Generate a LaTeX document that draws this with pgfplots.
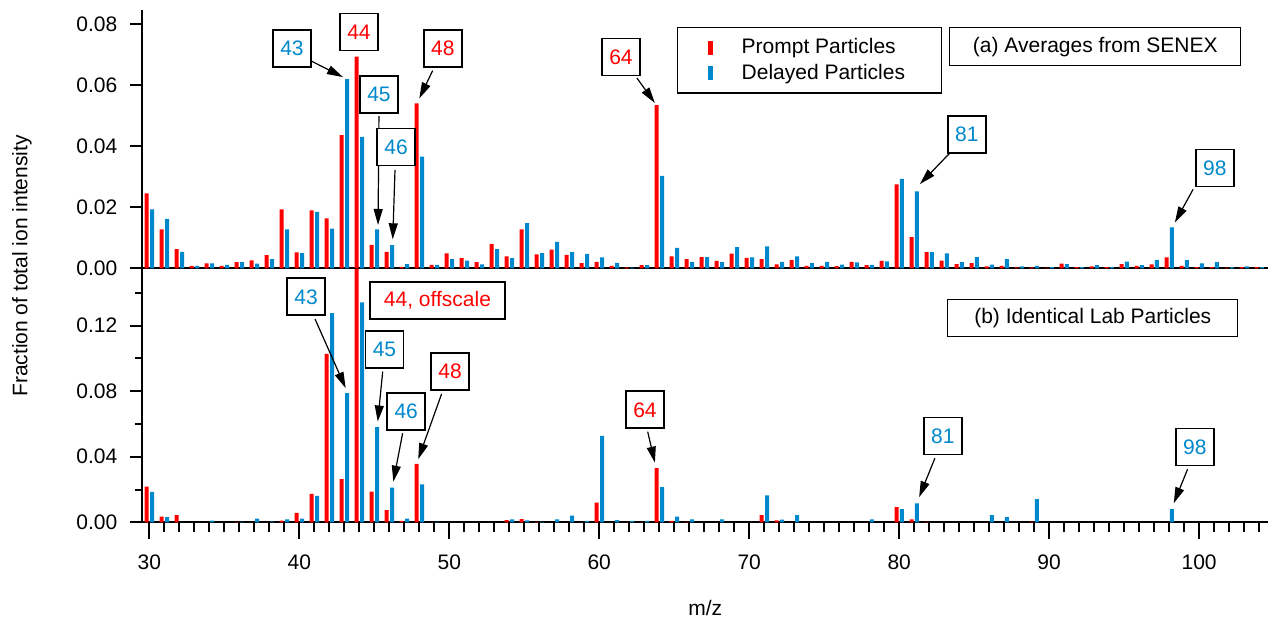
\documentclass[border=0pt]{standalone}
\usepackage{fontspec}
\setmainfont{Liberation Sans}
\usepackage{pgfplots}
\usepackage{pgfplotstable}
\pgfplotsset{compat=1.18}
\usetikzlibrary{arrows.meta}
\definecolor{promptred}{RGB}{255,0,0}
\definecolor{delayblue}{RGB}{0,136,204}

% top panel: SENEX averages
\pgfplotstableread{
mz prompt delayed
30 0.0246 0.0193
31 0.0128 0.0162
32 0.0063 0.0054
33 0.0008 0.0008
34 0.0016 0.0016
35 0.0008 0.0011
36 0.0020 0.0020
37 0.0026 0.0015
38 0.0043 0.0030
39 0.0193 0.0128
40 0.0052 0.0050
41 0.0190 0.0185
42 0.0164 0.0130
43 0.0437 0.0620
44 0.0694 0.0431
45 0.0077 0.0128
46 0.0054 0.0076
47 0.0005 0.0014
48 0.0541 0.0366
49 0.0011 0.0011
50 0.0049 0.0030
51 0.0033 0.0025
52 0.0020 0.0013
53 0.0080 0.0063
54 0.0039 0.0033
55 0.0128 0.0148
56 0.0046 0.0050
57 0.0061 0.0087
58 0.0044 0.0053
59 0.0017 0.0047
60 0.0021 0.0036
61 0.0008 0.0018
62 0.0003 0.0002
63 0.0010 0.0010
64 0.0535 0.0303
65 0.0039 0.0067
66 0.0030 0.0021
67 0.0037 0.0037
68 0.0024 0.0020
69 0.0048 0.0069
70 0.0034 0.0036
71 0.0030 0.0072
72 0.0013 0.0021
73 0.0027 0.0039
74 0.0008 0.0017
75 0.0008 0.0021
76 0.0007 0.0012
77 0.0021 0.0019
78 0.0010 0.0011
79 0.0024 0.0023
80 0.0275 0.0293
81 0.0102 0.0252
82 0.0053 0.0053
83 0.0025 0.0049
84 0.0014 0.0020
85 0.0017 0.0037
86 0.0006 0.0012
87 0.0008 0.0030
88 0.0003 0.0006
89 0.0003 0.0008
90 0.0001 0.0004
91 0.0015 0.0014
92 0.0004 0.0004
93 0.0006 0.0010
94 0.0004 0.0005
95 0.0014 0.0022
96 0.0008 0.0010
97 0.0013 0.0027
98 0.0036 0.0134
99 0.0008 0.0027
100 0.0004 0.0016
101 0.0004 0.0020
102 0.0002 0.0004
103 0.0004 0.0006
104 0.0004 0.0004
}\senex

% bottom panel: lab particles (44 prompt is offscale)
\pgfplotstableread{
mz prompt delayed
30 0.0218 0.0185
31 0.0034 0.0031
32 0.0043 0.0000
34 0.0000 0.0010
36 0.0003 0.0002
37 0.0000 0.0022
38 0.0000 0.0004
39 0.0010 0.0018
40 0.0057 0.0022
41 0.0174 0.0161
42 0.1028 0.1277
43 0.0263 0.0788
44 0.1800 0.1342
45 0.0187 0.0580
46 0.0075 0.0211
47 0.0008 0.0022
48 0.0356 0.0232
49 0.0000 0.0003
54 0.0014 0.0018
55 0.0020 0.0012
56 0.0003 0.0003
57 0.0000 0.0018
58 0.0000 0.0041
59 0.0000 0.0008
60 0.0120 0.0527
61 0.0000 0.0014
62 0.0000 0.0008
63 0.0000 0.0008
64 0.0330 0.0214
65 0.0008 0.0034
66 0.0003 0.0018
68 0.0000 0.0018
71 0.0043 0.0165
72 0.0012 0.0016
73 0.0000 0.0043
78 0.0000 0.0018
80 0.0092 0.0081
81 0.0018 0.0116
82 0.0003 0.0000
86 0.0000 0.0043
87 0.0000 0.0031
89 0.0004 0.0142
98 0.0000 0.0081
}\labdata

\pgfplotsset{
  panel/.style={
    scale only axis, width=562.9pt,
    xmin=29.53, xmax=104.6, ymin=0,
    axis x line*=bottom, axis y line*=left,
    axis line style={line width=1pt,-},
    tick style={line width=1pt,black},
    tick align=outside,
    major tick length=6pt, minor tick length=3.5pt,
    clip mode=individual,
    scaled y ticks=false,
    /pgf/number format/assume math mode=true,
    yticklabel style={/pgf/number format/fixed,/pgf/number format/fixed zerofill,
      /pgf/number format/precision=2, xshift=-3pt},
  },
  promptbar/.style={ybar, bar width=2pt, bar shift=-1.3pt, fill=promptred, draw=none},
  delaybar/.style={ybar, bar width=2pt, bar shift=1.4pt, fill=delayblue, draw=none},
}
\tikzset{
  lab/.style={draw, line width=0.9pt, fill=white, minimum width=19pt, minimum height=18.5pt, inner sep=1pt},
  arr/.style={-{Triangle[length=8pt,width=4.5pt]}, line width=0.6pt},
  title/.style={draw, line width=0.6pt, fill=white, minimum height=19pt, inner sep=1pt},
}

\begin{document}
\begin{tikzpicture}[font=\fontsize{10.5}{12.6}\selectfont]

% ---- bottom panel ----
\begin{axis}[panel, at={(0,0)}, anchor=south west,
  height=127pt, ymax=0.155,
  xtick={30,40,...,100}, minor xtick={30,31,...,104},
  ytick={0,0.04,0.08,0.12}, minor ytick={0.02,0.06,0.10,0.14},
  major x tick style={/pgfplots/major tick length=8.5pt},
  minor x tick style={/pgfplots/minor tick length=5pt},
  xticklabel style={yshift=-6.5pt},
]
\addplot[promptbar] table[x=mz,y=prompt]{\labdata};
\addplot[delaybar] table[x=mz,y=delayed]{\labdata};

\draw[arr] (41.05,0.1240) -- (43.09,0.0819);
\draw[arr] (45.56,0.0920) -- (45.23,0.0615);
\draw[arr] (46.89,0.0544) -- (46.27,0.0248);
\draw[arr] (49.49,0.0784) -- (47.93,0.0385);
\draw[arr] (63.23,0.0553) -- (63.71,0.0364);
\draw[arr] (82.38,0.0391) -- (81.33,0.0153);
\draw[arr] (99.23,0.0324) -- (98.31,0.0116);

\node[lab, text=delayblue] at (40.45,0.1376) {43};
\node[lab, text=promptred, minimum width=67.5pt] at (49.21,0.1355) {44, offscale};
\node[lab, text=delayblue] at (45.68,0.1056) {45};
\node[lab, text=delayblue] at (47.13,0.0678) {46};
\node[lab, text=promptred] at (50.05,0.0922) {48};
\node[lab, text=promptred] at (63.05,0.0686) {64};
\node[lab, text=delayblue] at (82.91,0.0527) {81};
\node[lab, text=delayblue] at (99.71,0.0460) {98};

\node[title, minimum width=145pt, minimum height=18.5pt] at (92.91,0.1245) {(b) Identical Lab Particles};
\node at (rel axis cs:0.5,0) [yshift=-42.9pt] {m/z};
\end{axis}

% ---- top panel ----
\begin{axis}[panel, at={(0,127pt)}, anchor=south west,
  height=129.15pt, ymax=0.0847,
  xtick=\empty,
  ytick={0,0.02,0.04,0.06,0.08},
  legend style={at={(0.475,0.934)}, anchor=north west, draw=black, line width=0.6pt,
    font=\fontsize{10.5}{12.6}\selectfont, inner xsep=3pt, inner ysep=3.5pt,
    row sep=-0.5pt, legend cell align=left},
]
\addplot[promptbar, legend image code/.code={\path (0pt,0pt) (27pt,0pt);
  \fill[promptred] (12pt,-3.5pt) rectangle (14.5pt,3.5pt);}] table[x=mz,y=prompt]{\senex};
\addlegendentry{Prompt Particles\hspace*{18pt}}
\addplot[delaybar, legend image code/.code={\path (0pt,0pt) (27pt,0pt);
  \fill[delayblue] (12pt,-3.5pt) rectangle (14.5pt,3.5pt);}] table[x=mz,y=delayed]{\senex};
\addlegendentry{Delayed Particles}

\draw[arr] (40.78,0.0680) -- (42.91,0.0627);
\draw[arr] (45.31,0.0499) -- (45.25,0.0142);
\draw[arr] (46.38,0.0322) -- (46.23,0.0095);
\draw[arr] (48.89,0.0648) -- (48.00,0.0557);
\draw[arr] (62.51,0.0624) -- (63.71,0.0542);
\draw[arr] (83.38,0.0378) -- (81.38,0.0276);
\draw[arr] (99.60,0.0259) -- (98.38,0.0150);

\node[lab, text=delayblue] at (39.51,0.0722) {43};
\node[lab, text=promptred] at (43.98,0.0775) {44};
\node[lab, text=delayblue] at (45.31,0.0571) {45};
\node[lab, text=delayblue] at (46.45,0.0398) {46};
\node[lab, text=promptred] at (49.57,0.0722) {48};
\node[lab, text=promptred] at (61.45,0.0693) {64};
\node[lab, text=delayblue] at (84.51,0.0440) {81};
\node[lab, text=delayblue] at (101.05,0.0329) {98};

\node[title, minimum width=145.5pt] at (93.08,0.0727) {(a) Averages from SENEX};
\end{axis}

\node[rotate=90] at (-60.15pt,128.15pt) {Fraction of total ion intensity};

\pgfresetboundingbox
\path[use as bounding box] (-71.15pt,-53.85pt) rectangle (563.35pt,261.15pt);
\end{tikzpicture}
\end{document}
